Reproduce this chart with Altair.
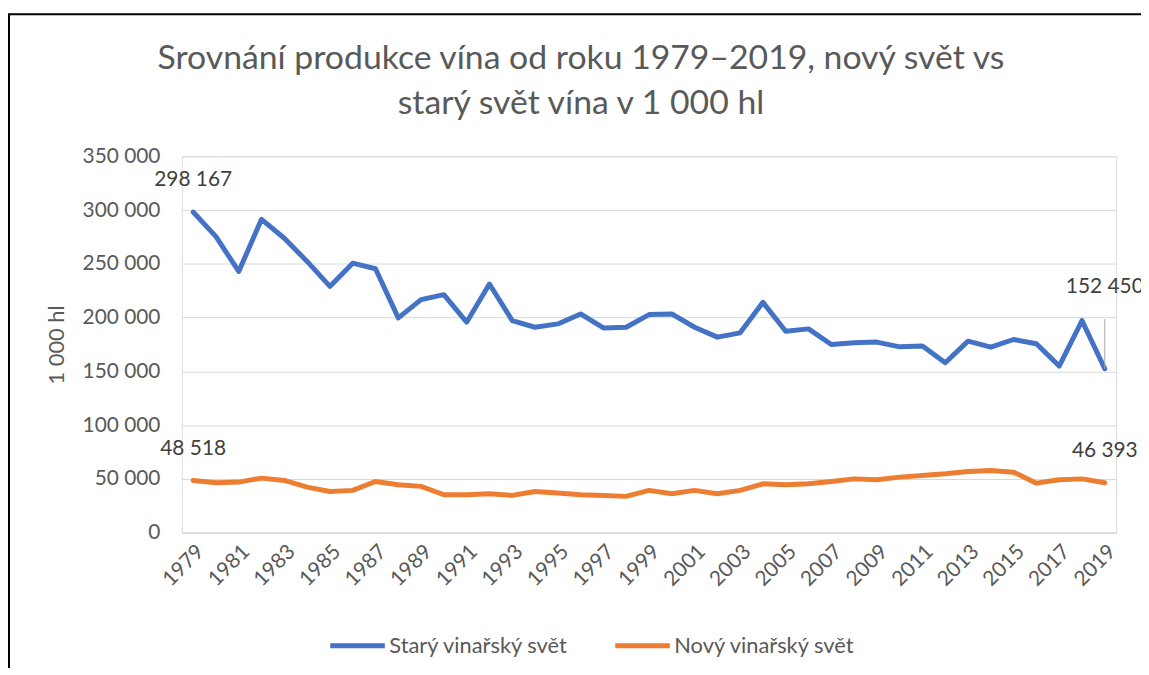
import altair as alt
import pandas as pd

years = list(range(1979, 2020))
stary = [298167, 275300, 242900, 291400, 273800, 252200, 229000, 250600, 245400, 199700,
         216700, 221300, 195700, 231200, 197200, 191000, 194100, 203400, 190400, 191000,
         202800, 203400, 191000, 181800, 185800, 214200, 187300, 189500, 175000, 176500,
         177200, 172800, 173500, 158000, 178100, 172500, 179600, 175600, 154900, 197200,
         152450]
novy = [48518, 46400, 47000, 50700, 48500, 42300, 38300, 39300, 47600, 44500,
        43000, 35200, 35200, 36200, 34600, 38300, 36800, 35200, 34600, 33700,
        39300, 36200, 39300, 36200, 39300, 45400, 44500, 45400, 47600, 50000,
        49100, 51600, 53100, 54700, 56800, 57800, 56200, 46000, 49100, 50000,
        46393]
series_names = ["Starý vinařský svět", "Nový vinařský svět"]
colors = ["#4472C4", "#ED7D31"]
title_lines = ["Srovnání produkce vína od roku 1979–2019, nový svět vs",
               "starý svět vína v 1 000 hl"]
y_title = "1 000 hl"
y_ticks = [0, 50000, 100000, 150000, 200000, 250000, 300000, 350000]

df = pd.DataFrame(
    [{"year": y, "value": v, "series": series_names[0]} for y, v in zip(years, stary)]
    + [{"year": y, "value": v, "series": series_names[1]} for y, v in zip(years, novy)]
)

FONT = "Lato"
GREY = "#595959"
LBL = "#404040"

x_enc = alt.X("year:O", axis=alt.Axis(
    title=None, labelAngle=-45, labelFontSize=21,
    labelColor=GREY, labelFont=FONT, ticks=False, domainColor="#d9d9d9",
    labelPadding=8, grid=False, labelOverlap=False, labelBound=False,
    labelExpr="datum.value % 2 == 1 ? datum.label : ''"))
y_enc = alt.Y("value:Q", scale=alt.Scale(domain=[0, 350000], nice=False),
              axis=alt.Axis(title=y_title, values=y_ticks, ticks=False, domain=False,
                            labelFontSize=21, labelColor=GREY, labelFont=FONT,
                            labelPadding=22, gridColor="#d9d9d9", titleFontSize=22,
                            titleColor=GREY, titleFont=FONT, titleFontWeight="normal",
                            titlePadding=14,
                            labelExpr="replace(format(datum.value, ','), regexp(',', 'g'), ' ')"))

base = alt.Chart(df)

lines = base.mark_line(strokeWidth=5, strokeJoin="round", strokeCap="round").encode(
    x=x_enc, y=y_enc,
    color=alt.Color("series:N", scale=alt.Scale(domain=series_names, range=colors),
                    legend=alt.Legend(title=None, orient="none", legendX=147, legendY=463,
                                      direction="horizontal", symbolType="stroke",
                                      symbolSize=3025, symbolStrokeWidth=5,
                                      labelFontSize=22, labelColor=GREY, labelFont=FONT,
                                      columnPadding=36, labelOffset=2, labelLimit=0)),
    order="year:O",
)

ends = base.transform_filter(
    (alt.datum.year == 1979) | (alt.datum.year == 2019)
).transform_calculate(
    label="replace(format(datum.value, ','), regexp(',', 'g'), ' ')"
)

labels_low = ends.transform_filter(
    ~((alt.datum.year == 2019) & (alt.datum.series == series_names[0]))
).mark_text(dy=-32, fontSize=21, font=FONT, color=LBL).encode(
    x="year:O", y="value:Q", text="label:N")

labels_high = ends.transform_filter(
    (alt.datum.year == 2019) & (alt.datum.series == series_names[0])
).mark_text(dy=-82, fontSize=21, font=FONT, color=LBL).encode(
    x="year:O", y="value:Q", text="label:N")

leader = ends.transform_filter(
    (alt.datum.year == 2019) & (alt.datum.series == series_names[0])
).transform_calculate(top="datum.value + 46000").mark_rule(
    color="#a6a6a6", strokeWidth=1).encode(x="year:O", y="value:Q", y2="top:Q")

one = pd.DataFrame({"a": [0]})
title1 = alt.Chart(one).mark_text(fontSize=34, font=FONT, color=GREY, baseline="middle").encode(
    x=alt.value(402), y=alt.value(-98), text=alt.value(title_lines[0]))
title2 = alt.Chart(one).mark_text(fontSize=34, font=FONT, color=GREY, baseline="middle").encode(
    x=alt.value(402), y=alt.value(-53), text=alt.value(title_lines[1]))

frame_left = alt.Chart(one).mark_rule(color="black", strokeWidth=2).encode(
    x=alt.value(-174), y=alt.value(-143), y2=alt.value(540))
frame_top = alt.Chart(one).mark_rule(color="black", strokeWidth=2).encode(
    x=alt.value(-175), x2=alt.value(1000), y=alt.value(-143))

chart = alt.layer(lines, leader, labels_low, labels_high, title1, title2,
                  frame_left, frame_top).properties(
    width=941, height=379,
    autosize=alt.AutoSizeParams(type="none"),
    padding={"left": 175, "top": 147, "right": 25, "bottom": 134},
).configure_view(stroke=None).configure(background="white")

chart.save("out.html", embed_options={"renderer": "svg", "actions": False})
